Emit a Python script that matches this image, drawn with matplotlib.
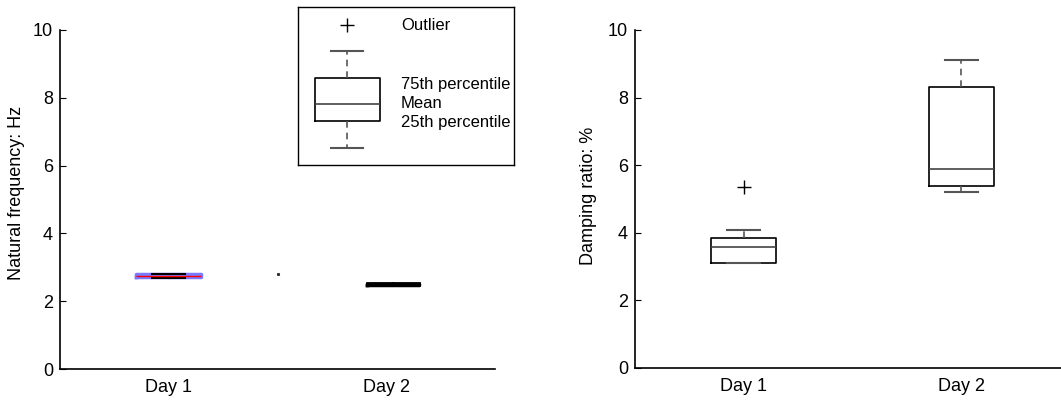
import numpy as np
import matplotlib
matplotlib.use("Agg")
from matplotlib import pyplot as plt

plt.rcParams['font.family'] = ['Liberation Sans', 'DejaVu Sans']
plt.rcParams['font.size'] = 13

days = ["Day 1", "Day 2"]

# natural frequency (Hz): whislo, q1, med, q3, whishi
freq_lo = [2.68, 2.47]
freq_q1 = [2.70, 2.48]
freq_med = [2.74, 2.50]
freq_q3 = [2.79, 2.52]
freq_hi = [2.81, 2.53]
freq_stray = [1.5, 2.80]   # tiny stray point between boxes

# damping ratio (%)
damp_lo = [3.12, 5.21]
damp_q1 = [3.12, 5.38]
damp_med = [3.59, 5.90]
damp_q3 = [3.85, 8.30]
damp_hi = [4.07, 9.11]
damp_out = [[5.36], []]

# legend sample box
leg_stats = dict(whislo=17, q1=44, med=61, q3=87, whishi=114, fliers=[140])
leg_labels = ["Outlier", "75th percentile", "Mean", "25th percentile"]
leg_label_y = [140, 80, 61, 43]


def stats(lo, q1, med, q3, hi, fl=None):
    out = []
    for i in range(len(lo)):
        out.append(dict(whislo=lo[i], q1=q1[i], med=med[i], q3=q3[i],
                        whishi=hi[i], fliers=fl[i] if fl else []))
    return out


def style_ax(ax, ylabel):
    ax.set_xlim(0.5, 2.5)
    ax.set_ylim(0, 10)
    ax.set_yticks([0, 2, 4, 6, 8, 10])
    ax.set_xticks([1, 2])
    ax.set_xticklabels(days)
    ax.tick_params(axis='y', direction='in', length=4, labelsize=13, pad=5)
    ax.tick_params(axis='x', length=0, pad=7, labelsize=13)
    for s in ['top', 'right']:
        ax.spines[s].set_visible(False)
    ax.spines['left'].set_linewidth(1.2)
    ax.spines['bottom'].set_linewidth(1.2)
    ax.set_ylabel(ylabel, fontsize=13)


fig = plt.figure(figsize=(10.61, 4.0), dpi=100)
ax1 = fig.add_axes([60 / 1061, 31 / 400, 435 / 1061, 339 / 400])
ax2 = fig.add_axes([635 / 1061, 32 / 400, 435 / 1061, 338 / 400])

whisk = dict(color='#555555', linestyle=(0, (4, 3)), linewidth=1.2)
caps = dict(color='#555555', linewidth=1.5)
boxp = dict(color='black', linewidth=1.2)
medp = dict(color='#444444', linewidth=1.2)
flp = dict(marker='+', markeredgecolor='black', markersize=10, markeredgewidth=1)

# left panel
fs = stats(freq_lo, freq_q1, freq_med, freq_q3, freq_hi)
ax1.bxp([fs[0]], positions=[1], widths=0.3, capwidths=0.15,
        boxprops=dict(color=(0.3, 0.3, 1.0, 0.75), linewidth=2.5),
        medianprops=dict(color='red', linewidth=1),
        whiskerprops=dict(color='navy', linewidth=1.5),
        capprops=dict(color='black', linewidth=1.5), showfliers=False)
ax1.bxp([fs[1]], positions=[2.03], widths=0.24, capwidths=0.24,
        boxprops=dict(color='black', linewidth=2.5),
        medianprops=dict(color='black', linewidth=2),
        whiskerprops=dict(color='black', linewidth=2),
        capprops=dict(color='black', linewidth=2), showfliers=False)
ax1.plot(freq_stray[0], freq_stray[1], 's', color='#333333', markersize=1.2)
style_ax(ax1, "Natural frequency: Hz")
ax1.set_xticks([1, 2])
ax1.set_xticklabels(days)

# right panel
ds = stats(damp_lo, damp_q1, damp_med, damp_q3, damp_hi, damp_out)
ax2.bxp(ds, positions=[1, 2], widths=0.3, capwidths=0.15,
        boxprops=boxp, medianprops=medp, whiskerprops=whisk,
        capprops=caps, flierprops=flp)
style_ax(ax2, "Damping ratio: %")
ax1.yaxis.set_label_coords(-0.08, 0.52)
ax2.yaxis.set_label_coords(-0.087, 0.51)

# legend drawn as a small boxplot
lax = fig.add_axes([298 / 1061, 235 / 400, 216 / 1061, 158 / 400])
lax.bxp([leg_stats], positions=[49], widths=65, capwidths=32,
        boxprops=boxp, medianprops=medp, whiskerprops=whisk,
        capprops=caps, flierprops=flp)
lax.set_xlim(0, 216)
lax.set_ylim(0, 158)
lax.set_xticks([])
lax.set_yticks([])
for s in lax.spines.values():
    s.set_linewidth(1)
for lab, yy in zip(leg_labels, leg_label_y):
    lax.text(103, yy, lab, va='center', ha='left', fontsize=12)

fig.savefig("out.png", dpi=100)
